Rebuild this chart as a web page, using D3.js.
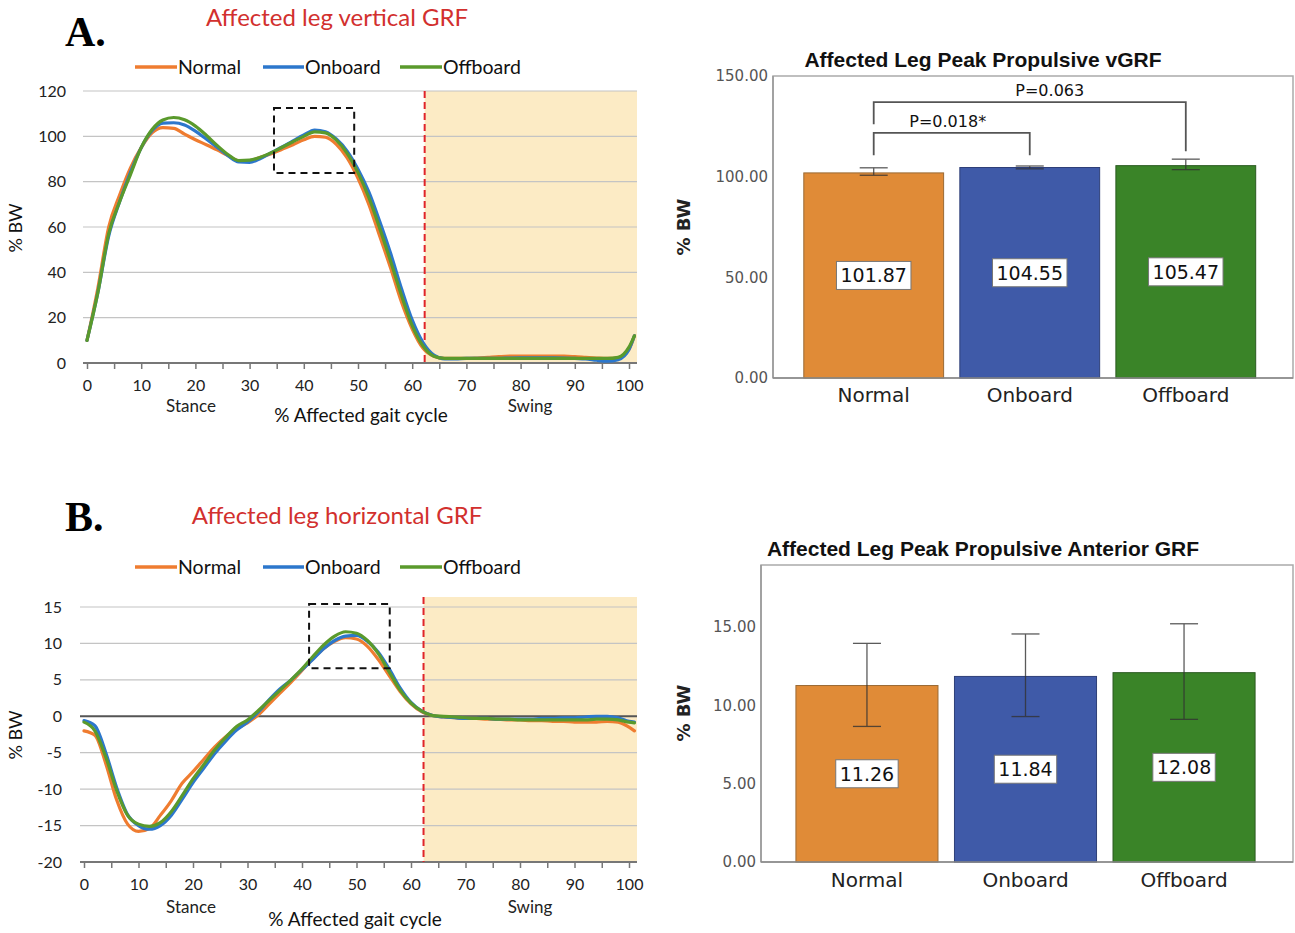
<!DOCTYPE html>
<html><head><meta charset="utf-8">
<script src="https://cdn.jsdelivr.net/npm/d3@7"></script>
<style>
body{margin:0;background:#fff;}
svg{display:block;}
</style></head>
<body>
<svg id="chart" width="1295" height="933"></svg>
<script>
// ---------- DATA ----------
const seriesNames = ["Normal", "Onboard", "Offboard"];
const gaitPct = [0,2,4,6,8,10,12,14,16,18,20,22,24,26,28,30,32,34,36,38,40,42,44,46,48,50,52,54,56,58,60,62,64,66,68,70,72,74,76,78,80,82,84,86,88,90,92,94,96,98,100,101];

const vNormal   = [10,33,60,74,86,95,101.5,103.8,103.5,101,98.5,96.3,94,91.5,89.3,89.3,90.8,92.3,94.3,96.3,98.5,100,99.6,96.5,90.5,81.5,70,56,42,27,15,6.5,3,2,2,2,2.2,2.5,2.8,3,3,3,3,3,3,2.8,2.5,2.2,2,2.3,6,12];
const vOnboard  = [10,31,56,71,84,95,102.5,105.8,106,105,102.3,98.8,95.2,91.5,88.7,88.5,90.2,92.8,95.3,98,100.6,102.8,102,98.8,93.5,85.5,75.5,62.5,48.5,33,19,9,3.5,1.8,1.8,2,2,2,2,2.2,2.3,2.3,2.3,2.3,2.2,2,1.8,1.2,0.8,1.5,6,12];
const vOffboard = [10,31,57,71,83,95,103,107.2,108.3,107.3,104.5,100.5,96,92,89.3,89.5,90.8,92.8,95.2,97.6,100,102,101.5,98.3,92.5,84,73,59.5,45,30,16.5,7.5,3,2,2,2,2,2,2,2,2,2,2,2,2,2,2,2,2,2.5,7,12];

const hNormal   = [-2,-2.6,-6.5,-11.5,-14.8,-15.8,-15.4,-13.6,-11.6,-9.2,-7.6,-5.9,-4.2,-2.8,-1.7,-0.9,0.2,1.7,3.2,4.7,6.3,7.9,9.3,10.3,10.8,10.6,9.6,7.8,5.6,3.4,1.7,0.6,0.1,-0.1,-0.2,-0.3,-0.3,-0.4,-0.4,-0.5,-0.5,-0.6,-0.6,-0.7,-0.7,-0.8,-0.8,-0.8,-0.7,-0.8,-1.5,-2];
const hOnboard  = [-0.6,-1.3,-5,-9.8,-13.5,-15,-15.5,-15,-13.6,-11.4,-9.1,-7.1,-5.1,-3.4,-1.9,-0.8,0.6,2.3,3.8,5,6.4,7.8,9.3,10.4,11,11.1,10.3,8.8,6.5,3.9,1.9,0.7,0.1,-0.1,-0.2,-0.3,-0.3,-0.3,-0.4,-0.4,-0.4,-0.4,-0.3,-0.3,-0.2,-0.2,-0.1,0,0,-0.2,-0.7,-0.8];
const hOffboard = [-0.8,-2,-5.6,-10.2,-13.6,-14.8,-15.1,-14.6,-13.1,-10.9,-8.6,-6.6,-4.6,-2.9,-1.4,-0.5,0.8,2.2,3.6,5,6.5,8.2,9.8,11,11.6,11.4,10.4,8.6,6.1,3.6,1.8,0.7,0.1,0,-0.1,-0.2,-0.3,-0.3,-0.4,-0.4,-0.5,-0.5,-0.5,-0.5,-0.5,-0.5,-0.5,-0.4,-0.4,-0.5,-0.8,-0.9];

const stanceEnd = 62.3;               // % gait cycle where swing begins
const vTicks = [0,20,40,60,80,100,120];
const hTicks = [-20,-15,-10,-5,0,5,10,15];
const xTicks = [0,5,10,15,20,25,30,35,40,45,50,55,60,65,70,75,80,85,90,95,100];
const vZoomBox = {x0:34.5, x1:49.3, y0:83.8, y1:112.5};
const hZoomBox = {x0:41.3, x1:56.1, y0:6.6, y1:15.4};

const barCats   = ["Normal", "Onboard", "Offboard"];
const vgrfPeak  = [101.87, 104.55, 105.47];
const vgrfLow   = [100.7, 103.9, 103.5];
const vgrfHigh  = [104.4, 105.3, 108.7];
const vgrfTicks = [0, 50, 100, 150];
const agrfPeak  = [11.26, 11.84, 12.08];
const agrfLow   = [8.65, 9.28, 9.1];
const agrfHigh  = [13.95, 14.55, 15.2];
const agrfTicks = [0, 5, 10, 15];
const pBrackets = [
  {a:"Normal", b:"Onboard",  aLow:110.6, top:121.8, bLow:110.6, label:"P=0.018*", dx:-4},
  {a:"Normal", b:"Offboard", aLow:126,   top:137,   bLow:112.6, label:"P=0.063",  dx:20}
];

// ---------- STYLE ----------
const lineColors = {Normal:"#EF7C30", Onboard:"#2C77CC", Offboard:"#5A9A2C"};
const barColors  = {Normal:"#E08B37", Onboard:"#3F5AA8", Offboard:"#3A8428"};
const barStroke  = {Normal:"#9a6a35", Onboard:"#2e3f78", Offboard:"#2a5a20"};
const lineFont = "Lato, 'Open Sans', sans-serif";
const barFont  = "'DejaVu Sans', Verdana, sans-serif";

const svg = d3.select("#chart");

// ---------- LINE CHARTS ----------
function lineChart(cfg) {
  const g = svg.append("g");
  const x = d3.scaleLinear().domain([0,100]).range(cfg.xRange);
  const y = d3.scaleLinear().domain(cfg.yDomain).range(cfg.yRange);
  const gx0 = cfg.gridX0, gx1 = cfg.gridX1;

  // panel letter & title
  g.append("text").attr("x", 65).attr("y", cfg.letterY)
    .attr("font-family","'Liberation Serif', 'Times New Roman', serif").attr("font-weight","bold")
    .attr("font-size", 42).attr("fill","#000").text(cfg.letter);
  g.append("text").attr("x", 337).attr("y", cfg.titleY).attr("text-anchor","middle")
    .attr("font-family", lineFont).attr("font-size", 24).attr("fill","#D2302E").text(cfg.title);

  // legend
  const legX = [{l:135,t:178},{l:263,t:305},{l:400,t:443}];
  seriesNames.forEach((s,i) => {
    g.append("line").attr("x1",legX[i].l).attr("x2",legX[i].t-1)
      .attr("y1",cfg.legendY).attr("y2",cfg.legendY)
      .attr("stroke",lineColors[s]).attr("stroke-width",3.5);
    g.append("text").attr("x",legX[i].t).attr("y",cfg.legendY).attr("dy","0.36em")
      .attr("font-family",lineFont).attr("font-size",19.5).attr("fill","#111").text(s);
  });

  // swing shading
  g.append("rect").attr("x", x(stanceEnd)).attr("y", cfg.shadeTop)
    .attr("width", gx1 - x(stanceEnd)).attr("height", y(cfg.yDomain[0]) - cfg.shadeTop)
    .attr("fill","#FCEBC5");

  // gridlines
  g.selectAll(".grid").data(cfg.ticks.filter(t => t !== cfg.yDomain[0] && t !== 0)).join("line")
    .attr("x1",gx0).attr("x2",gx1).attr("y1",d=>y(d)).attr("y2",d=>y(d))
    .attr("stroke","#c4c4c4").attr("stroke-width",1.2);
  if (cfg.yDomain[0] < 0) {
    g.append("line").attr("x1",gx0).attr("x2",gx1).attr("y1",y(0)).attr("y2",y(0))
      .attr("stroke","#555").attr("stroke-width",2);
  }

  // y tick labels
  g.selectAll(".ylab").data(cfg.ticks).join("text")
    .attr("x", cfg.yLabX).attr("y", d=>y(d)).attr("dy","0.35em").attr("text-anchor","end")
    .attr("font-family",lineFont).attr("font-size",16).attr("fill","#222").text(d=>d);

  // x axis
  const ax = g.append("g").attr("transform",`translate(0,${y(cfg.yDomain[0])})`)
    .call(d3.axisBottom(x).tickValues(xTicks).tickSize(6).tickPadding(11)
      .tickFormat(d => d % 10 === 0 ? d : ""));
  ax.select(".domain").remove();
  ax.selectAll(".tick line").attr("stroke","#777").attr("stroke-width",1.5);
  ax.selectAll(".tick text").attr("font-family",lineFont).attr("font-size",16).attr("fill","#222");
  g.append("line").attr("x1",gx0).attr("x2",gx1)
    .attr("y1",y(cfg.yDomain[0])).attr("y2",y(cfg.yDomain[0]))
    .attr("stroke","#777").attr("stroke-width",2);

  // red dashed stance/swing divider
  g.append("line").attr("x1",x(stanceEnd)).attr("x2",x(stanceEnd))
    .attr("y1",cfg.shadeTop).attr("y2",y(cfg.yDomain[0]))
    .attr("stroke","#E0242A").attr("stroke-width",2).attr("stroke-dasharray","7,4");

  // lines
  const line = d3.line().x((d,i)=>x(gaitPct[i])).y(d=>y(d)).curve(d3.curveMonotoneX);
  seriesNames.forEach((s,i) => {
    g.append("path").datum(cfg.series[i]).attr("d", line)
      .attr("fill","none").attr("stroke",lineColors[s]).attr("stroke-width",3.2)
      .attr("stroke-linejoin","round").attr("stroke-linecap","round");
  });

  // dashed zoom box
  const b = cfg.box;
  g.append("rect").attr("x",x(b.x0)).attr("y",y(b.y1))
    .attr("width",x(b.x1)-x(b.x0)).attr("height",y(b.y0)-y(b.y1))
    .attr("fill","none").attr("stroke","#111").attr("stroke-width",2).attr("stroke-dasharray","7,5");

  // axis labels
  g.append("text").attr("transform",`translate(22,${cfg.yTitleY}) rotate(-90)`)
    .attr("text-anchor","middle").attr("font-family",lineFont).attr("font-size",18).attr("fill","#111").text("% BW");
  g.append("text").attr("x",191).attr("y",cfg.stanceY).attr("text-anchor","middle")
    .attr("font-family",lineFont).attr("font-size",17).attr("fill","#222").text("Stance");
  g.append("text").attr("x",530).attr("y",cfg.stanceY).attr("text-anchor","middle")
    .attr("font-family",lineFont).attr("font-size",17).attr("fill","#222").text("Swing");
  g.append("text").attr("x",cfg.gaitX).attr("y",cfg.gaitY).attr("text-anchor","middle")
    .attr("font-family",lineFont).attr("font-size",19).attr("fill","#111").text("% Affected gait cycle");
}

lineChart({
  letter:"A.", letterY:46, title:"Affected leg vertical GRF", titleY:26, legendY:67,
  xRange:[87,629], yDomain:[0,120], yRange:[363,91], gridX0:83, gridX1:637, shadeTop:91,
  ticks:vTicks, yLabX:66, series:[vNormal,vOnboard,vOffboard], box:vZoomBox,
  yTitleY:228, stanceY:412, gaitX:361, gaitY:422
});
lineChart({
  letter:"B.", letterY:531, title:"Affected leg horizontal GRF", titleY:524, legendY:567,
  xRange:[84,629], yDomain:[-20,15], yRange:[862,607], gridX0:80, gridX1:637, shadeTop:597,
  ticks:hTicks, yLabX:62, series:[hNormal,hOnboard,hOffboard], box:hZoomBox,
  yTitleY:735, stanceY:913, gaitX:355, gaitY:926
});

// ---------- BAR CHARTS ----------
function barChart(cfg) {
  const g = svg.append("g");
  const x = d3.scaleBand().domain(barCats).range(cfg.xRange).paddingInner(0.104).paddingOuter(0.05);
  const y = d3.scaleLinear().domain(cfg.yDomain).range([cfg.bottom, cfg.top]);

  g.append("text").attr("x",983).attr("y",cfg.titleY).attr("text-anchor","middle")
    .attr("font-family","'Liberation Sans', Arial, sans-serif").attr("font-weight","bold")
    .attr("font-size",21).attr("fill","#111").text(cfg.title);

  // frame
  g.append("rect").attr("x",cfg.left).attr("y",cfg.top).attr("width",cfg.right-cfg.left)
    .attr("height",cfg.bottom-cfg.top).attr("fill","#fff").attr("stroke","#aaa").attr("stroke-width",1.5);
  g.append("line").attr("x1",cfg.left).attr("x2",cfg.left).attr("y1",cfg.top).attr("y2",cfg.bottom)
    .attr("stroke","#999").attr("stroke-width",1.5);

  // y tick labels
  g.selectAll(".yl").data(cfg.ticks).join("text")
    .attr("x",cfg.left-5).attr("y",d=>y(d)).attr("dy","0.35em").attr("text-anchor","end")
    .attr("font-family",barFont).attr("font-size",15).attr("fill","#555").text(d=>d.toFixed(2));

  // y title
  g.append("text").attr("transform",`translate(${cfg.yTitleX},${cfg.yTitleY}) rotate(-90)`)
    .attr("text-anchor","middle").attr("font-family",barFont).attr("font-weight","bold")
    .attr("font-size",18).attr("fill","#222").text("% BW");

  // bars
  barCats.forEach((c,i) => {
    g.append("rect").attr("x",x(c)).attr("y",y(cfg.vals[i])).attr("width",x.bandwidth())
      .attr("height",y(0)-y(cfg.vals[i])).attr("fill",barColors[c])
      .attr("stroke",barStroke[c]).attr("stroke-width",1);
  });
  // bottom axis line
  g.append("line").attr("x1",cfg.left).attr("x2",cfg.right).attr("y1",cfg.bottom).attr("y2",cfg.bottom)
    .attr("stroke","#888").attr("stroke-width",1.5);

  // error bars
  barCats.forEach((c,i) => {
    const cx = x(c) + x.bandwidth()/2;
    const eg = g.append("g").attr("stroke","#333").attr("stroke-width",1.3).attr("opacity",0.8);
    eg.append("line").attr("x1",cx).attr("x2",cx).attr("y1",y(cfg.low[i])).attr("y2",y(cfg.high[i]));
    eg.append("line").attr("x1",cx-14).attr("x2",cx+14).attr("y1",y(cfg.low[i])).attr("y2",y(cfg.low[i]));
    eg.append("line").attr("x1",cx-14).attr("x2",cx+14).attr("y1",y(cfg.high[i])).attr("y2",y(cfg.high[i]));
  });

  // value labels
  barCats.forEach((c,i) => {
    const cx = x(c) + x.bandwidth()/2;
    const cy = y(cfg.vals[i]/2);
    const t = g.append("text").attr("x",cx).attr("y",cy).attr("dy","0.36em").attr("text-anchor","middle")
      .attr("font-family",barFont).attr("font-size",19).attr("fill","#111").text(cfg.vals[i].toFixed(2));
    const bb = t.node().getBBox();
    g.insert("rect", () => t.node()).attr("x",bb.x-4).attr("y",cy-14).attr("width",bb.width+8).attr("height",28)
      .attr("fill","#fff").attr("stroke","#777").attr("stroke-width",1);
  });

  // category labels
  g.selectAll(".xl").data(barCats).join("text")
    .attr("x",d=>x(d)+x.bandwidth()/2).attr("y",cfg.catY).attr("text-anchor","middle")
    .attr("font-family",barFont).attr("font-size",20).attr("fill","#222").text(d=>d);

  // significance brackets
  (cfg.brackets||[]).forEach(bk => {
    const xa = x(bk.a) + x.bandwidth()/2, xb = x(bk.b) + x.bandwidth()/2;
    g.append("path")
      .attr("d",`M${xa},${y(bk.aLow)}V${y(bk.top)}H${xb}V${y(bk.bLow)}`)
      .attr("fill","none").attr("stroke","#555").attr("stroke-width",1.8);
    g.append("text").attr("x",(xa+xb)/2 + bk.dx).attr("y",y(bk.top)-6).attr("text-anchor","middle")
      .attr("font-family",barFont).attr("font-size",16).attr("fill","#111").text(bk.label);
  });
}

barChart({
  title:"Affected Leg Peak Propulsive vGRF", titleY:67,
  left:773, right:1293, top:76, bottom:378, yDomain:[0,150], xRange:[796,1263.5],
  ticks:vgrfTicks, vals:vgrfPeak, low:vgrfLow, high:vgrfHigh,
  yTitleX:690, yTitleY:227, catY:402, brackets:pBrackets
});
barChart({
  title:"Affected Leg Peak Propulsive Anterior GRF", titleY:556,
  left:761, right:1293, top:565, bottom:862, yDomain:[0,18.95], xRange:[788,1263],
  ticks:agrfTicks, vals:agrfPeak, low:agrfLow, high:agrfHigh,
  yTitleX:690, yTitleY:713, catY:887, brackets:[]
});
</script>
</body></html>
